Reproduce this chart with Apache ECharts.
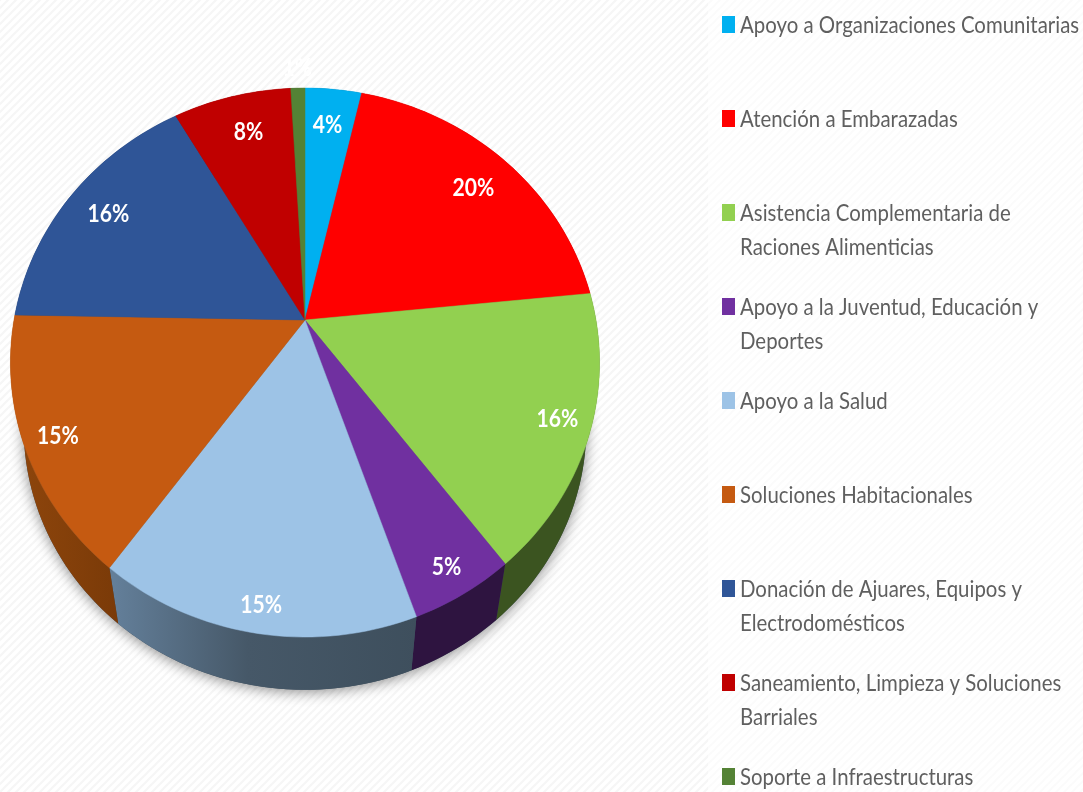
<!DOCTYPE html>
<html><head><meta charset="utf-8">
<style>html,body{margin:0;padding:0;background:#fff}#c{width:1083px;height:792px}</style>
<script src="https://cdn.jsdelivr.net/npm/echarts@6/dist/echarts.min.js"></script>
</head><body><div id="c"></div>
<script>
const categories = ['Apoyo a Organizaciones Comunitarias','Atención a Embarazadas','Asistencia Complementaria de\nRaciones Alimenticias','Apoyo a la Juventud, Educación y\nDeportes','Apoyo a la Salud','Soluciones Habitacionales','Donación de Ajuares, Equipos y\nElectrodomésticos','Saneamiento, Limpieza y Soluciones\nBarriales','Soporte a Infraestructuras'];
const values = [3.6,19.8,16.3,5,15.3,15.3,16.3,7.5,0.9];
const topColors = ['#00b0f0','#ff0000','#92d050','#7030a0','#9dc3e6','#c55a11','#2f5597','#c00000','#548235'];
const wallColors = ['#005a7a','#800000','#3b5420','#2e1440','#3f4f5f','#7f3d0a','#18294c','#600000','#2a411b'];
const labelRadius = [.84,.83,.89,.905,.915,.89,.84,.83,1.116];
const labelShift = [-.5,.5,-1,0,-.3,0,.5,1.5,0];

const total = values.reduce((a,b)=>a+b,0);
const starts = values.map((_,i)=>values.slice(0,i).reduce((a,b)=>a+b,0));
const CX=305, CY=320, BX=291, BY=267.9, K=.155, WALL_SCALE=.955, WALL_CY=387;
const LEGEND_TOP=8, LEGEND_STEP=94, LEGEND_FONT='24px Lato,"Liberation Sans",sans-serif';
function rimTop(deg,r){const t=deg*Math.PI/180,u=r*Math.sin(t),v=-r*Math.cos(t),d=1-K*v;return [CX+BX*u/d,CY+BY*v/d];}
function rimBottom(deg){const p=rimTop(deg,1);return [CX+WALL_SCALE*(p[0]-CX),WALL_CY+WALL_SCALE*(p[1]-CY)];}
function arc(fn,a,b){const n=Math.max(2,Math.ceil(Math.abs(b-a)/1.5)),o=[];for(let i=0;i<=n;i++)o.push(fn(a+(b-a)*i/n,1));return o;}

const stripe=document.createElement('canvas');stripe.width=stripe.height=8;
const g=stripe.getContext('2d');g.fillStyle='#ffffff';g.fillRect(0,0,8,8);g.strokeStyle='#f6f6f6';g.lineWidth=2.2;
[[-2,2,2,-2],[0,8,8,0],[6,10,10,6]].forEach(s=>{g.beginPath();g.moveTo(s[0],s[1]);g.lineTo(s[2],s[3]);g.stroke();});

const series = categories.map((name,i)=>({
  type:'custom',name,coordinateSystem:'none',silent:true,animation:false,
  itemStyle:{color:topColors[i]},
  data:[[values[i]]],
  renderItem:(p,api)=>{
    const a=starts[i]/total*360, b=a+api.value(0)/total*360, m=(a+b)/2+labelShift[i];
    const tp=arc(rimTop,a,b), bt=arc(rimBottom,a,b).reverse();
    const wallFill = i===4 ? new echarts.graphic.LinearGradient(0,0,1,0,[{offset:0,color:'#64809b'},{offset:.45,color:'#465868'},{offset:1,color:'#3e4f5d'}])
      : i===5 ? new echarts.graphic.LinearGradient(0,0,1,0,[{offset:0,color:'#8f460c'},{offset:1,color:'#7a3a08'}]) : wallColors[i];
    const lp=rimTop(m,labelRadius[i]);
    return {type:'group',children:[
      {type:'polygon',z2:1,shape:{points:tp.concat(bt)},style:{fill:wallFill}},
      {type:'polygon',z2:10,shape:{points:[[CX,CY]].concat(tp)},style:{fill:topColors[i],stroke:topColors[i],lineWidth:.5}},
      {type:'text',z2:20,x:lp[0],y:lp[1]+3,scaleX:.88,style:{text:Math.round(api.value(0))+'%',x:0,y:0,align:'center',verticalAlign:'middle',fill:'#ffffff',font:'bold 24px Lato,"Liberation Sans",sans-serif'}}
    ]};
  }
}));
series.unshift({
  type:'custom',name:'base',coordinateSystem:'none',silent:true,animation:false,data:[[total]],
  renderItem:()=>({type:'polygon',z2:0,shape:{points:arc(rimBottom,0,360)},style:{fill:'#3e4f5d',shadowBlur:14,shadowColor:'rgba(0,0,0,.45)',shadowOffsetY:2}})
});

const chart=echarts.init(document.getElementById('c'),null,{renderer:'canvas'});
chart.setOption({
  backgroundColor:{image:stripe,repeat:'repeat'},
  animation:false,
  graphic:[{type:'rect',z:-1,shape:{x:708,y:0,width:375,height:792},style:{fill:'rgba(255,255,255,.6)'},silent:true}]
    .concat(categories.map((text,i)=>({type:'text',silent:true,x:740,y:LEGEND_TOP+LEGEND_STEP*i,scaleX:.85,
      style:{text,font:LEGEND_FONT,lineHeight:34,fill:'#5f5f5f',verticalAlign:'top',align:'left'}}))),
  legend:{
    show:true,orient:'vertical',left:722,top:LEGEND_TOP,height:860,padding:0,itemGap:LEGEND_STEP-68,itemWidth:13,itemHeight:68,
    selectedMode:false,data:categories.map(name=>({name,icon:'path://M0 8H13V25H0Z M0 0L0 0 M13 68L13 68'})),
    formatter:()=>' ',textStyle:{fontSize:12}
  },
  series
});
</script></body></html>
